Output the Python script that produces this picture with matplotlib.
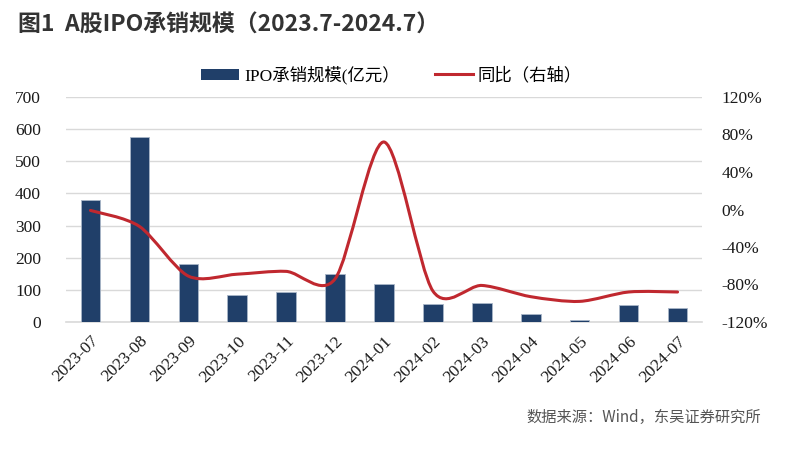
import numpy as np
import matplotlib
matplotlib.use('Agg')
import matplotlib.pyplot as plt
from matplotlib.path import Path
from matplotlib.patches import PathPatch
from matplotlib.lines import Line2D
from matplotlib.patches import Patch

# Data
months = ['2023-07', '2023-08', '2023-09', '2023-10', '2023-11', '2023-12', '2024-01',
          '2024-02', '2024-03', '2024-04', '2024-05', '2024-06', '2024-07']
ipo_scale = [381, 577, 181, 84, 94, 150, 119, 57, 58, 26, 7, 53, 44]   # 亿元
yoy = [-1, -18, -71, -69, -66, -74, 72, -87, -81, -93, -98, -88, -88]  # %

left_ticks = [0, 100, 200, 300, 400, 500, 600, 700]
right_ticks = [-120, -80, -40, 0, 40, 80, 120]

bar_color = '#203F69'
line_color = '#C0282F'
grid_color = '#D9D9D9'
serif = ['Liberation Serif', 'Noto Sans CJK SC']
sans = ['Noto Sans CJK SC', 'DejaVu Sans']


def smooth_path(xs, ys, k=7.0):
    # Catmull-Rom style bezier through the points (like Excel's smoothed line)
    pts = np.column_stack([xs, ys]).astype(float)
    n = len(pts)
    verts = [pts[0]]
    codes = [Path.MOVETO]
    for i in range(n - 1):
        p0 = pts[i - 1] if i > 0 else pts[i]
        p1 = pts[i]
        p2 = pts[i + 1]
        p3 = pts[i + 2] if i + 2 < n else pts[i + 1]
        c1 = p1 + (p2 - p0) / k
        c2 = p2 - (p3 - p1) / k
        verts += [c1, c2, p2]
        codes += [Path.CURVE4] * 3
    return Path(verts, codes)


fig = plt.figure(figsize=(7.95, 4.5), dpi=100)
ax = fig.add_axes([66 / 795, 1 - 322 / 450, 636 / 795, 225 / 450])
x = np.arange(len(months))

ax.bar(x, ipo_scale, width=0.4, color=bar_color, edgecolor='#A9B6C8', linewidth=0.6, zorder=3)
ax.set_xlim(-0.5, len(months) - 0.5)
ax.set_ylim(0, 700)
ax.set_yticks(left_ticks)
ax.yaxis.grid(True, color=grid_color, linewidth=1.0, zorder=0)
ax.set_axisbelow(True)
for s in ['top', 'right', 'left']:
    ax.spines[s].set_visible(False)
ax.spines['bottom'].set_color(grid_color)
ax.spines['bottom'].set_linewidth(1.2)
ax.tick_params(axis='both', length=0)
ax.set_xticks(x)
ax.set_xticklabels(months, rotation=45, ha='right', rotation_mode='anchor',
                   fontfamily=serif, fontsize=12.5, color='#1A1A1A')
ax.tick_params(axis='x', pad=8)
for lbl in ax.get_yticklabels():
    lbl.set_fontfamily(serif)
    lbl.set_fontsize(12.5)
    lbl.set_color('#1A1A1A')
ax.tick_params(axis='y', pad=18)

ax2 = ax.twinx()
ax2.set_ylim(-120, 120)
ax2.set_yticks(right_ticks)
ax2.set_yticklabels([f'{t}%' for t in right_ticks], fontfamily=serif, fontsize=12.5, color='#1A1A1A')
ax2.tick_params(axis='y', length=0, pad=14)
for s in ax2.spines.values():
    s.set_visible(False)
ax2.add_patch(PathPatch(smooth_path(x, yoy), facecolor='none', edgecolor=line_color,
                        linewidth=2.2, capstyle='round', zorder=5))

handles = [Patch(facecolor=bar_color, edgecolor='none'),
           Line2D([0], [0], color=line_color, linewidth=2.2)]
fig.legend(handles, ['IPO承销规模(亿元）', '同比（右轴）'], loc='center', ncol=2,
           bbox_to_anchor=(0.4925, 1 - 75 / 450), frameon=False,
           prop={'family': serif, 'size': 12.5}, handlelength=2.2, handleheight=0.6,
           handletextpad=0.3, columnspacing=2.0)

fig.text(18 / 795, 1 - 25 / 450, '图1  A股IPO承销规模（2023.7-2024.7）', fontfamily=sans,
         fontweight='bold', fontsize=16.5, color='#333333', ha='left', va='center')
fig.text(761 / 795, 1 - 417 / 450, '数据来源：Wind，东吴证券研究所', fontfamily=sans,
         fontsize=11, color='#555555', ha='right', va='center')

fig.savefig('out.png', dpi=100)
